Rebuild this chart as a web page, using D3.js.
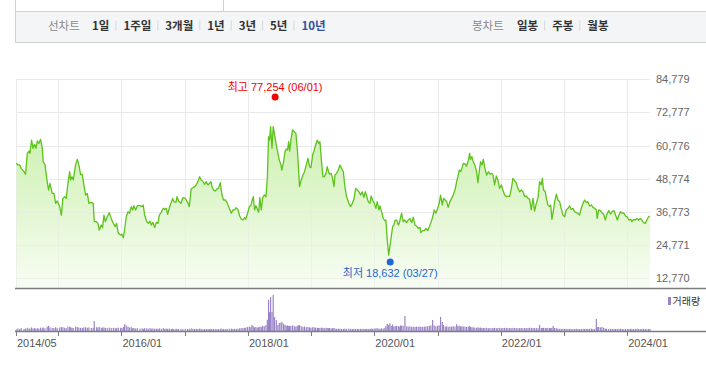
<!DOCTYPE html>
<html><head><meta charset="utf-8">
<script src="https://cdn.jsdelivr.net/npm/d3@7"></script>
<style>
html,body{margin:0;padding:0;background:#fff;}
svg{display:block;}
text{font-family:"Liberation Sans",Arial,"Noto Sans CJK KR",sans-serif;}
.kr{font-family:"Noto Sans CJK KR","Liberation Sans",sans-serif;}
</style></head><body>
<svg id="c" width="706" height="366"></svg>
<script>
// ---------------- DATA ----------------
const dates = [
"2014-04-27","2014-05-07","2014-05-17","2014-05-26","2014-06-11","2014-06-20","2014-06-30","2014-07-10","2014-07-15","2014-07-25",
"2014-08-02","2014-08-11","2014-08-19","2014-08-27","2014-09-05","2014-09-15","2014-09-25","2014-09-30","2014-10-10","2014-10-23",
"2014-10-31","2014-11-08","2014-11-21","2014-12-01","2014-12-11","2014-12-20",
"2015-01-03","2015-01-13","2015-01-22","2015-02-01","2015-02-10","2015-02-20","2015-03-02","2015-03-07","2015-03-15","2015-03-23",
"2015-04-05","2015-04-15","2015-04-24","2015-05-04","2015-05-14","2015-05-23","2015-06-02","2015-06-12","2015-06-21","2015-07-05",
"2015-07-16","2015-07-22","2015-08-04","2015-08-12","2015-08-20","2015-08-31","2015-09-08","2015-09-16","2015-09-24","2015-10-05",
"2015-10-17","2015-10-28","2015-11-09","2015-11-20","2015-11-28","2015-12-08","2015-12-21","2015-12-29",
"2016-01-06","2016-01-13","2016-01-23","2016-02-02","2016-02-11","2016-02-21","2016-02-29","2016-03-07","2016-03-17","2016-03-27",
"2016-04-11","2016-04-24","2016-04-30","2016-05-08","2016-05-19","2016-05-29","2016-06-08","2016-06-15","2016-06-25","2016-07-05",
"2016-07-14","2016-07-24","2016-08-01","2016-08-12","2016-08-24","2016-09-01","2016-09-10","2016-09-18","2016-09-28","2016-10-09",
"2016-10-17","2016-10-24","2016-11-05","2016-11-11","2016-11-20","2016-12-04","2016-12-15","2016-12-29",
"2017-01-11","2017-01-21","2017-02-01","2017-02-11","2017-02-21","2017-03-02","2017-03-12","2017-03-22","2017-03-31","2017-04-10",
"2017-04-20","2017-04-29","2017-05-09","2017-05-18","2017-05-26","2017-06-01","2017-06-10","2017-06-20","2017-06-30","2017-07-09",
"2017-07-19","2017-07-29","2017-08-07","2017-08-17","2017-08-27","2017-09-09","2017-09-21","2017-09-30","2017-10-10","2017-10-19",
"2017-10-29","2017-11-08","2017-11-17","2017-11-27","2017-12-07","2017-12-14","2017-12-24",
"2018-01-03","2018-01-12","2018-01-18","2018-01-26","2018-02-02","2018-02-10","2018-02-18","2018-02-26","2018-03-05","2018-03-13",
"2018-03-21","2018-03-30","2018-04-09","2018-04-17","2018-04-24","2018-04-30","2018-05-06","2018-05-14","2018-05-21","2018-05-29",
"2018-06-08","2018-06-17","2018-06-25","2018-07-05","2018-07-10","2018-07-20","2018-07-28","2018-08-04","2018-08-12","2018-08-18",
"2018-08-24","2018-08-31","2018-09-10","2018-09-20","2018-09-29","2018-10-07","2018-10-13","2018-10-20","2018-10-30","2018-11-09",
"2018-11-18","2018-11-28","2018-12-08","2018-12-17","2018-12-25",
"2019-01-04","2019-01-13","2019-01-21","2019-01-31","2019-02-07","2019-02-15","2019-02-25","2019-03-04","2019-03-12","2019-03-22",
"2019-03-29","2019-04-06","2019-04-12","2019-04-21","2019-04-29","2019-05-07","2019-05-13","2019-05-22","2019-06-01","2019-06-10",
"2019-06-20","2019-06-30","2019-07-09","2019-07-19","2019-08-01","2019-08-11","2019-08-21","2019-08-30","2019-09-09","2019-09-19",
"2019-09-28","2019-10-08","2019-10-17","2019-10-27","2019-11-04","2019-11-12","2019-11-21","2019-12-01","2019-12-08","2019-12-16",
"2019-12-26",
"2020-01-04","2020-01-12","2020-01-22","2020-01-28","2020-02-06","2020-02-16","2020-02-25","2020-03-02","2020-03-10","2020-03-18",
"2020-03-25","2020-04-02","2020-04-10","2020-04-17","2020-04-25","2020-05-03","2020-05-13","2020-05-18","2020-05-26","2020-06-01",
"2020-06-10","2020-06-20","2020-06-30","2020-07-09","2020-07-19","2020-07-29","2020-08-07","2020-08-17","2020-08-26","2020-09-05",
"2020-09-15","2020-09-20","2020-09-30","2020-10-10","2020-10-19","2020-10-29","2020-11-08","2020-11-17","2020-11-27","2020-12-06",
"2020-12-16","2020-12-26",
"2021-01-04","2021-01-12","2021-01-22","2021-01-29","2021-02-08","2021-02-16","2021-02-25","2021-03-07","2021-03-17","2021-03-26",
"2021-04-05","2021-04-15","2021-04-22","2021-04-30","2021-05-08","2021-05-15","2021-05-23","2021-06-02","2021-06-11","2021-06-21",
"2021-06-29","2021-07-04","2021-07-12","2021-07-20","2021-07-29","2021-08-08","2021-08-16","2021-08-23","2021-08-31","2021-09-08",
"2021-09-16","2021-09-25","2021-10-05","2021-10-15","2021-10-24","2021-11-05","2021-11-11","2021-11-20","2021-11-30","2021-12-09",
"2021-12-19","2021-12-29",
"2022-01-07","2022-01-17","2022-01-27","2022-02-05","2022-02-15","2022-02-24","2022-03-06","2022-03-16","2022-03-25","2022-04-04",
"2022-04-14","2022-04-23","2022-05-03","2022-05-13","2022-05-22","2022-06-01","2022-06-10","2022-06-20","2022-06-30","2022-07-09",
"2022-07-19","2022-07-29","2022-08-07","2022-08-17","2022-08-23","2022-08-30","2022-09-09","2022-09-15","2022-09-24","2022-10-04",
"2022-10-10","2022-10-17","2022-10-25","2022-11-02","2022-11-12","2022-11-21","2022-12-01","2022-12-10","2022-12-20","2022-12-30",
"2023-01-08","2023-01-18","2023-01-28","2023-02-06","2023-02-16","2023-02-25","2023-03-07","2023-03-17","2023-03-26","2023-04-05",
"2023-04-15","2023-04-24","2023-05-04","2023-05-13","2023-05-23","2023-06-02","2023-06-11","2023-06-21","2023-07-01","2023-07-06",
"2023-07-14","2023-07-24","2023-08-02","2023-08-12","2023-08-22","2023-08-29","2023-09-10","2023-09-21","2023-10-01","2023-10-11",
"2023-10-20","2023-10-30","2023-11-09","2023-11-18","2023-11-28","2023-12-07","2023-12-17","2023-12-27",
"2024-01-05","2024-01-15","2024-01-23","2024-02-01","2024-02-11","2024-02-21","2024-03-01","2024-03-11","2024-03-20","2024-03-30",
"2024-04-09","2024-04-18","2024-04-28","2024-05-06"
];
const closes = [
54400,53800,53800,52550,51350,50400,58000,58800,58000,62800,
59800,61250,59800,62450,61600,63050,59800,54950,54000,47750,
44700,47150,43500,43500,39900,40750,
38700,35650,41700,42300,41700,47150,51350,48350,49550,48350,
53800,55800,53800,50400,50400,46550,42900,43500,39900,40250,
39900,33250,33250,32650,30250,32050,31100,35650,33250,35050,
36500,34450,32650,31450,32650,29050,28450,28700,
27450,30250,35050,36900,36300,38700,37500,39050,37500,39050,
39050,38700,39300,35650,33500,32650,33500,32050,33000,31100,
33000,32650,35650,36650,38100,37700,38100,35900,38300,40250,
41700,40500,40250,42300,40750,39900,41950,41700,
40250,38700,45100,45550,45950,46550,47750,49550,48350,47750,
46750,47750,46550,47150,47750,45950,44700,44350,45100,45300,
47350,42900,41100,41100,40250,38100,36300,37500,37500,38300,
37700,35300,34250,33850,34700,34250,36300,
38700,39050,40750,42300,37500,39050,37850,36650,41950,37500,
41950,42900,42300,48950,64000,62800,67650,59800,67650,64600,
61000,58000,55550,53800,51950,54950,58600,59550,59200,62200,
58800,62800,66450,65850,65200,59800,53800,45950,48350,50150,
51350,53800,56200,53150,52800,
57400,59200,61000,62800,61600,62200,54350,49550,49550,50750,
53150,51350,50400,50750,48950,45950,50150,50750,51950,53750,
52550,51350,45950,42300,39900,38700,39900,41350,45300,44700,
44100,42900,44100,42050,44100,42550,40500,39900,42550,41100,
39900,
38100,40500,37500,38950,36900,34450,33600,33850,26650,21200,
24200,27850,31450,32050,33850,33850,32050,32650,34850,36300,
33250,33850,32900,33850,34450,32900,34850,32050,31700,30850,
31200,29300,30000,30000,30850,30000,31450,32900,34850,37500,
36300,38100,
39900,42900,39300,41700,41100,40500,38450,40500,41700,42900,
44700,47750,49550,51950,51350,52550,54350,54150,53400,55350,
58000,55800,56800,54950,53750,51350,47350,51350,54950,53750,
55800,52550,50150,51350,50500,50750,50150,46550,49800,48350,
45300,46550,
44700,42900,42300,42550,42300,44950,48950,48100,47350,45300,
44100,44700,44100,42300,42550,41700,41350,37500,41700,37100,
39900,42050,47750,46550,48950,44700,44100,41700,39300,38700,
39300,34100,36900,40500,43250,41100,40500,38100,35650,35050,
37500,38100,38950,37700,38100,36900,36500,36300,35650,38100,
39900,41100,40150,40500,38950,39300,38450,38100,37500,34450,
37500,37250,36500,36050,33850,35650,37250,36050,36900,37250,
35650,33850,35650,36900,36300,36300,35300,34850,
33850,34100,33250,34100,33850,34450,33850,34450,33850,32900,
32650,33850,35050,35300
];
const volumes = [
40,60,45,70,50,60,80,55,65,90,
60,75,55,70,60,85,65,90,70,110,
130,90,80,75,95,70,
85,100,95,80,70,110,105,90,80,75,
110,100,85,80,75,90,95,80,90,75,
80,250,95,85,100,80,85,90,75,80,
85,75,80,75,70,85,80,75,
100,165,140,110,90,95,70,75,65,70,
60,65,55,70,65,60,70,60,65,55,
60,55,65,60,70,55,60,55,60,50,
55,50,55,50,55,50,45,55,
50,55,65,55,50,55,50,60,50,45,
50,45,50,45,50,45,50,45,50,45,
55,60,50,45,50,55,60,50,55,50,
60,65,70,75,80,85,100,
110,95,150,120,90,100,85,95,110,100,
130,120,150,280,780,470,850,480,900,350,
270,150,200,210,230,180,150,130,140,120,
130,125,140,120,110,130,140,150,120,100,
110,95,100,90,85,
95,90,85,80,75,80,85,75,70,80,
75,70,75,65,70,75,60,55,60,55,
50,55,60,55,60,55,50,55,50,55,
50,55,50,55,50,55,50,55,60,55,
60,
65,70,60,55,65,60,80,120,180,150,
190,130,160,110,120,130,120,110,140,130,
130,375,120,110,120,100,110,100,110,105,
110,100,105,110,115,120,130,140,275,140,
120,130,
140,350,225,150,110,120,100,115,110,120,
110,170,125,130,115,110,115,110,105,110,
120,100,95,90,85,80,90,80,85,75,
80,75,80,70,75,70,75,80,70,75,
80,70,
75,80,75,70,75,70,80,75,70,75,
70,75,70,75,70,75,80,80,75,70,
75,70,150,80,75,80,75,70,80,75,
70,80,125,75,70,60,55,50,55,50,
55,50,55,50,45,50,55,50,45,50,
55,50,55,50,55,60,50,45,300,100,
100,90,100,80,60,55,50,55,50,55,
50,55,50,55,50,45,50,45,
50,55,50,45,50,55,50,45,50,55,
50,45,50,50
];
const yTickValues = [12770, 24771, 36773, 48774, 60776, 72777, 84779];
const xTickDates = ["2014-05-01","2015-01-01","2016-01-01","2017-01-01","2018-01-01","2019-01-01","2020-01-01","2021-01-01","2022-01-01","2023-01-01","2024-01-01"];
const xTickLabels = ["2014/05","","2016/01","","2018/01","","2020/01","","2022/01","","2024/01"];
const markerDates = ["2018-06-01","2020-03-27"];
const markerValues = [77254, 18632];
const markerLabels = ["최고 77,254 (06/01)","최저 18,632 (03/27)"];
const markerColors = ["#f00000","#1f67d2"];
const lineTabs = ["1일","1주일","3개월","1년","3년","5년","10년"];
const candleTabs = ["일봉","주봉","월봉"];
const volumeLegend = "거래량";

// ---------------- CHART ----------------
const parse = d3.timeParse("%Y-%m-%d");
const n = Math.min(dates.length, closes.length, volumes.length);
const data = d3.range(n).map(i => ({date: parse(dates[i]), close: closes[i], vol: volumes[i]}));

const svg = d3.select("#c");
const L = 16.2, R = 650, plotTop = 79.3, priceBottom = 278.3, plotBottom = 288;
const volBase = 331, volTop = 291;

const x = d3.scaleTime().domain([data[0].date, data[n-1].date]).range([L, R]);
const y = d3.scaleLinear().domain([yTickValues[0], yTickValues[yTickValues.length-1]]).range([priceBottom, plotTop]);
const vy = d3.scaleLinear().domain([0, 1000]).range([volBase, volTop]);

// --- top tab bar ---
const topG = svg.append("g");
topG.append("line").attr("x1",15.5).attr("x2",15.5).attr("y1",0).attr("y2",11).attr("stroke","#cfd3d8");
topG.append("line").attr("x1",223.5).attr("x2",223.5).attr("y1",0).attr("y2",11).attr("stroke","#cfd3d8");
topG.append("rect").attr("x",15.5).attr("y",11.5).attr("width",700).attr("height",31)
  .attr("fill","#f4f5f7").attr("stroke","#cdd1d6");

function tabGroup(title, titleX, items, startX, activeIdx){
  topG.append("text").attr("class","kr").attr("x",titleX).attr("y",29.5)
    .attr("font-size",11.5).attr("fill","#8a8a8a").text(title);
  let cx = startX;
  items.forEach((t,i) => {
    const tx = topG.append("text").attr("class","kr").attr("x",cx).attr("y",29.5)
      .attr("font-size",11.5).attr("font-weight","bold")
      .attr("fill", i===activeIdx ? "#2f4f9f" : "#333").text(t);
    const w = tx.node().getComputedTextLength();
    if (i < items.length-1) {
      topG.append("line").attr("x1",cx+w+6.5).attr("x2",cx+w+6.5).attr("y1",20.5).attr("y2",30.5)
        .attr("stroke","#d6d8dc");
    }
    cx += w + 14;
  });
}
tabGroup("선차트", 48, lineTabs, 92, lineTabs.length-1);
tabGroup("봉차트", 472, candleTabs, 517, -1);

// --- area gradient ---
const defs = svg.append("defs");
const grad = defs.append("linearGradient").attr("id","ag").attr("gradientUnits","userSpaceOnUse")
  .attr("x1",0).attr("x2",0).attr("y1",100).attr("y2",plotBottom);
grad.append("stop").attr("offset","0%").attr("stop-color","#c4eea2").attr("stop-opacity",1);
grad.append("stop").attr("offset","100%").attr("stop-color","#f8fdf4").attr("stop-opacity",1);

function drawGrid(opacity){
  const g = svg.append("g").attr("opacity",opacity);
  g.selectAll("line.hg").data(yTickValues).enter().append("line").attr("class","hg")
    .attr("x1",L).attr("x2",R).attr("y1",d=>Math.round(y(d))+0.5).attr("y2",d=>Math.round(y(d))+0.5)
    .attr("stroke","#e9e9e9");
  g.selectAll("line.vg").data(xTickDates).enter().append("line").attr("class","vg")
    .attr("x1",d=>Math.round(x(parse(d)))-0.5).attr("x2",d=>Math.round(x(parse(d)))-0.5)
    .attr("y1",plotTop).attr("y2",plotBottom).attr("stroke","#e9e9e9");
}
drawGrid(1);

svg.append("path").datum(data)
  .attr("d", d3.area().x(d=>x(d.date)).y0(plotBottom).y1(d=>y(d.close)))
  .attr("fill","url(#ag)");
drawGrid(0.5);

svg.append("path").datum(data)
  .attr("d", d3.line().x(d=>x(d.date)).y(d=>y(d.close)))
  .attr("fill","none").attr("stroke","#5cc31a").attr("stroke-width",1.3).attr("stroke-linejoin","round");

// --- y labels ---
svg.selectAll("text.yl").data(yTickValues).enter().append("text").attr("class","yl")
  .attr("x",656).attr("y",d=>y(d)+4).attr("font-size",11).attr("fill","#666")
  .text(d=>d3.format(",")(d));

// --- axis lines ---
svg.append("line").attr("x1",15).attr("x2",706).attr("y1",288.5).attr("y2",288.5).attr("stroke","#7d7d7d").attr("stroke-width",1.4);

// --- markers (high marker sits a few px above its value, as in the source) ---
const markerLift = [3, 0];
markerDates.forEach((md,i) => {
  const cx = x(parse(md)), cy = y(markerValues[i]) - markerLift[i];
  svg.append("circle").attr("cx",cx).attr("cy",cy).attr("r",3.5).attr("fill",markerColors[i]);
  svg.append("text").attr("x",cx).attr("y", i===0 ? cy-6.5 : cy+15)
    .attr("text-anchor","middle").attr("font-size",11).attr("fill",markerColors[i])
    .text(markerLabels[i]);
});

// --- volume ---
svg.append("g").selectAll("rect").data(data).enter().append("rect")
  .attr("x",d=>x(d.date)-0.6).attr("width",1.2)
  .attr("y",d=>vy(d.vol)).attr("height",d=>volBase-vy(d.vol))
  .attr("fill","#9a84c8");
svg.append("line").attr("x1",15).attr("x2",706).attr("y1",volBase+0.5).attr("y2",volBase+0.5).attr("stroke","#7d7d7d").attr("stroke-width",1.4);
svg.selectAll("line.xt").data(xTickDates).enter().append("line").attr("class","xt")
  .attr("x1",d=>Math.round(x(parse(d)))-0.5).attr("x2",d=>Math.round(x(parse(d)))-0.5)
  .attr("y1",volBase).attr("y2",volBase+5).attr("stroke","#7d7d7d");
svg.selectAll("text.xl").data(xTickDates).enter().append("text").attr("class","xl")
  .attr("x",d=>x(parse(d))).attr("y",347).attr("font-size",11).attr("fill","#555")
  .text((d,i)=>xTickLabels[i]);

// legend
svg.append("rect").attr("x",668).attr("y",297).attr("width",3).attr("height",8).attr("fill","#9a84c8");
svg.append("text").attr("class","kr").attr("x",672.5).attr("y",305).attr("font-size",10).attr("fill","#333").text(volumeLegend);
</script>
</body></html>
